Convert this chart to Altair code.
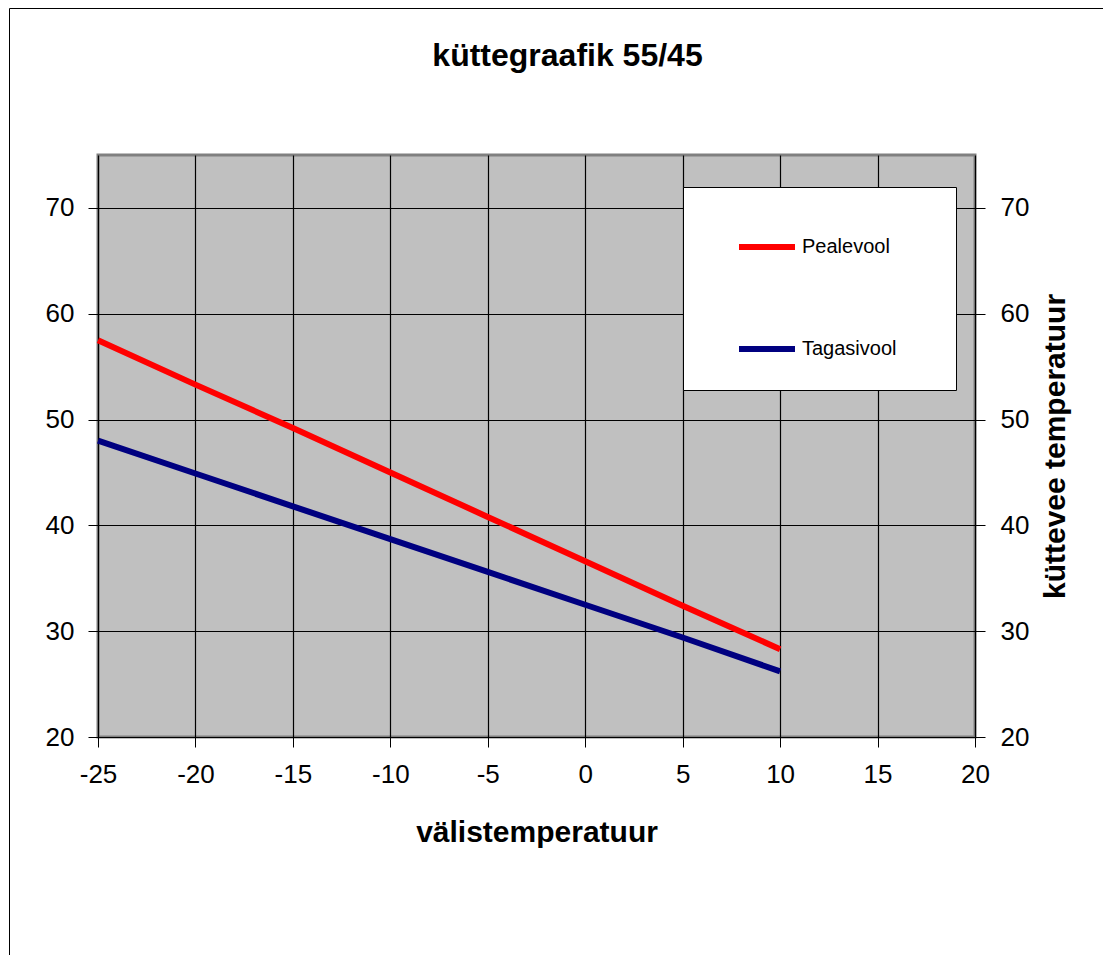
import altair as alt
import pandas as pd

# ---- data ----
outdoor = [-25, -20, -15, -10, -5, 0, 5, 10]
pealevool = [57.5, 53.3, 49.2, 45.0, 40.8, 36.6, 32.4, 28.3]
tagasivool = [48.0, 44.9, 41.8, 38.7, 35.6, 32.5, 29.4, 26.2]
series = ["Pealevool", "Tagasivool"]
colors = ["#FF0000", "#000080"]
x_ticks = [-25, -20, -15, -10, -5, 0, 5, 10, 15, 20]
y_ticks = [20, 30, 40, 50, 60, 70]

rows = []
for t, v in zip(outdoor, pealevool):
    rows.append({"t": t, "v": v, "s": series[0]})
for t, v in zip(outdoor, tagasivool):
    rows.append({"t": t, "v": v, "s": series[1]})
df = pd.DataFrame(rows)

FONT = "Liberation Sans"
W, H = 877, 582

xscale = alt.Scale(domain=[-25, 20], nice=False, zero=False)
yscale = alt.Scale(domain=[20, 75], nice=False, zero=False)
x_axis = alt.Axis(values=x_ticks, title="välistemperatuur", grid=True,
                  labelPadding=14, titlePadding=30, labelFlush=False,
                  labelExpr="datum.value < 0 ? '-' + abs(datum.value) : '' + datum.value")

lines = alt.Chart(df).mark_line(strokeWidth=6, strokeCap="butt").encode(
    x=alt.X("t:Q", scale=xscale, axis=x_axis),
    y=alt.Y("v:Q", scale=yscale,
            axis=alt.Axis(orient="left", values=y_ticks, title=None, grid=True,
                          labelPadding=14, labelFlush=False)),
    color=alt.Color("s:N", scale=alt.Scale(domain=series, range=colors),
                    legend=alt.Legend(title="\u00a0", titleOrient="right", titlePadding=30,
                                      orient="none", legendX=585, legendY=32,
                                      fillColor="white", strokeColor="black",
                                      padding=29, rowPadding=59, symbolOffset=24,
                                      labelOffset=4, labelFontSize=20, labelFont=FONT,
                                      labelColor="black",
                                      symbolType="stroke", symbolStrokeWidth=6,
                                      symbolSize=3136)),
)

right = alt.Chart(df).mark_line(opacity=0).encode(
    x=alt.X("t:Q", scale=xscale, axis=x_axis),
    y=alt.Y("v:Q", scale=yscale,
            axis=alt.Axis(orient="right", values=y_ticks, title="küttevee temperatuur",
                          grid=False, labelPadding=15, titlePadding=12, labelFlush=False,
                          titleAngle=270, titleBaseline="top")),
    detail="s:N",
)

one = pd.DataFrame({"a": [0]})
border_top = alt.Chart(one).mark_rule(color="black", strokeWidth=1).encode(
    x=alt.value(-88.5), x2=alt.value(1005), y=alt.value(-146.5))
border_left = alt.Chart(one).mark_rule(color="black", strokeWidth=1).encode(
    x=alt.value(-88.5), y=alt.value(-146.5), y2=alt.value(H + 260))

chart = alt.layer(lines, right, border_top, border_left).resolve_scale(y="independent").properties(
    width=W, height=H,
    padding={"left": 90, "top": 147, "right": 129, "bottom": 218},
    autosize=alt.AutoSizeParams(type="none"),
    background="white",
    title=alt.Title("küttegraafik 55/45", font=FONT, fontSize=32, fontWeight="bold",
                    color="black", anchor="middle", dx=31, offset=-65),
).configure_view(
    fill="#C0C0C0", stroke="#808080", strokeWidth=3
).configure_axis(
    domain=False, tickColor="black", tickSize=10, tickWidth=1,
    gridColor="black", gridWidth=1.2, gridOpacity=1,
    labelFont=FONT, labelFontSize=26, labelColor="black",
    titleFont=FONT, titleFontSize=30, titleFontWeight="bold", titleColor="black",
)

chart.save("out.html", embed_options={"renderer": "svg", "actions": False})
